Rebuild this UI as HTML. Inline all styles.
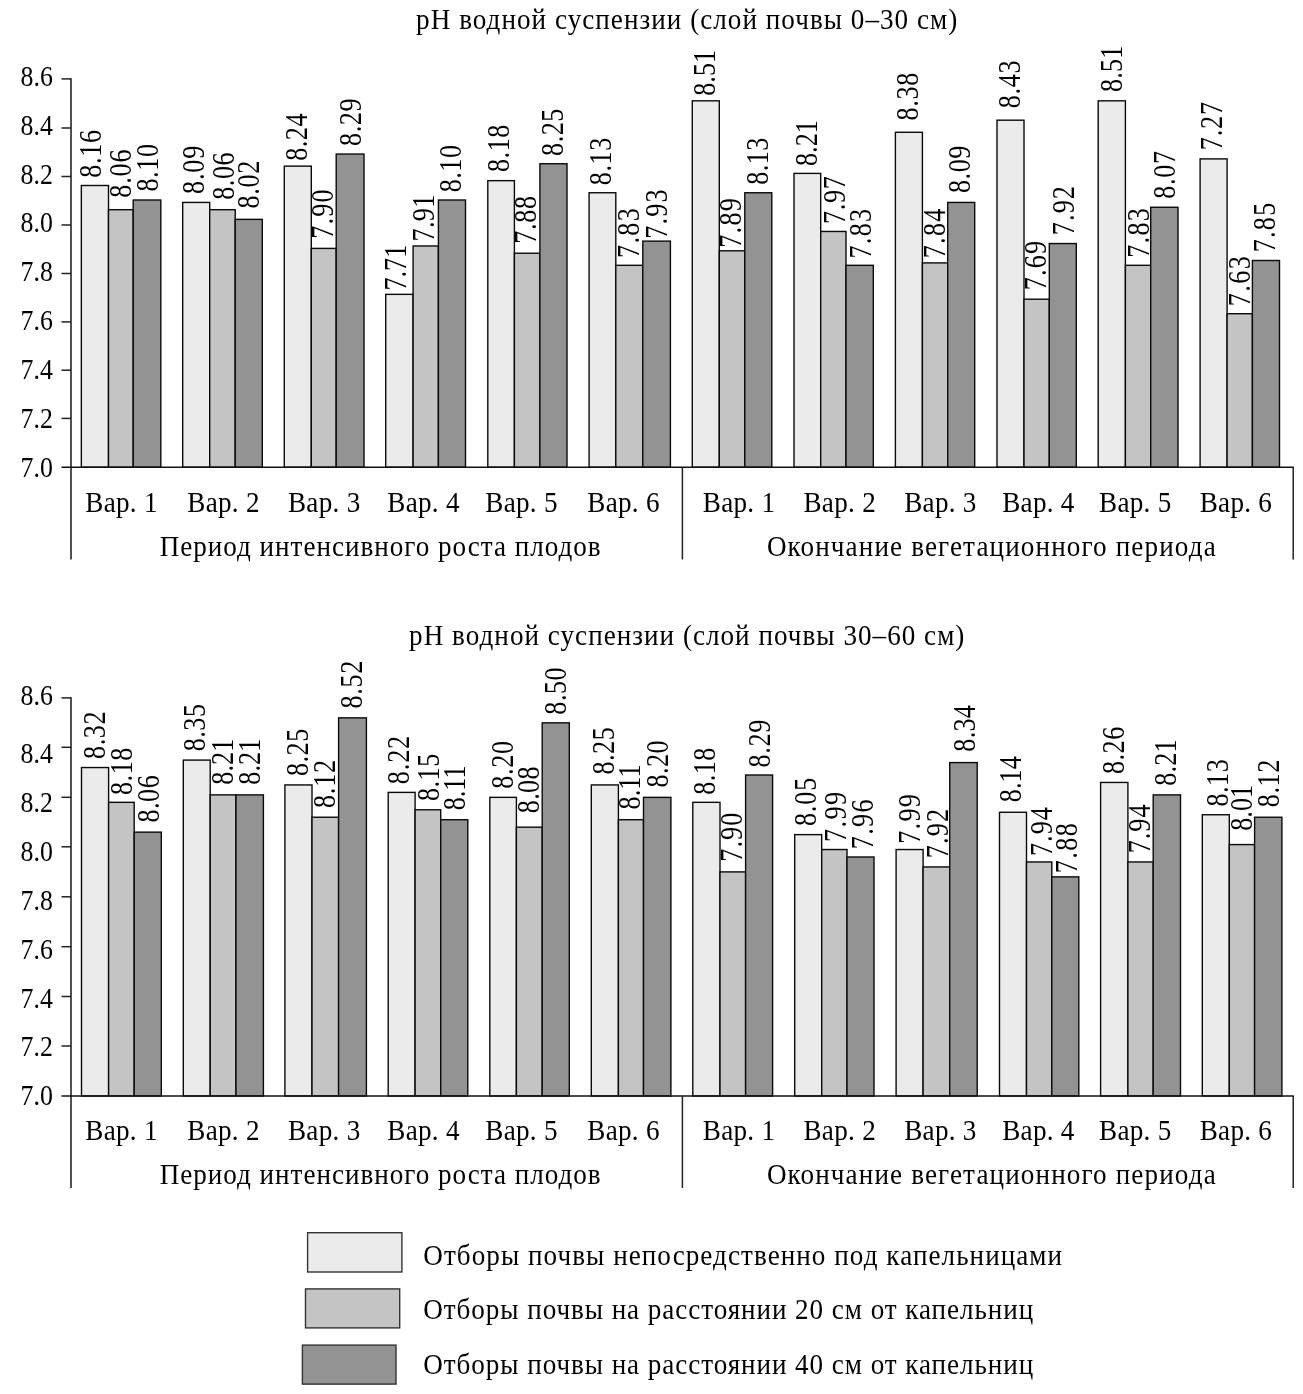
<!DOCTYPE html>
<html><head><meta charset="utf-8"><title>pH</title>
<style>
html,body{margin:0;padding:0;background:#fff;}
svg{display:block;filter:grayscale(1);}
text{font-family:"Liberation Serif",serif;fill:#000;}
</style></head><body>
<svg width="1303" height="1394" viewBox="0 0 1303 1394">
<rect width="1303" height="1394" fill="#fff"/>
<text transform="translate(416.10,29.20) scale(0.92,1)" font-size="29.5" letter-spacing="1.122">pH водной суспензии (слой почвы 0–30 см)</text>
<rect x="81.35" y="185.50" width="27.15" height="281.70" fill="#ebebeb" stroke="#0a0a0a" stroke-width="1.4"/>
<rect x="108.50" y="209.69" width="24.70" height="257.51" fill="#c4c4c4" stroke="#0a0a0a" stroke-width="1.4"/>
<rect x="133.20" y="200.01" width="27.60" height="267.19" fill="#939393" stroke="#0a0a0a" stroke-width="1.4"/>
<rect x="182.70" y="202.43" width="27.00" height="264.77" fill="#ebebeb" stroke="#0a0a0a" stroke-width="1.4"/>
<rect x="209.70" y="209.69" width="25.50" height="257.51" fill="#c4c4c4" stroke="#0a0a0a" stroke-width="1.4"/>
<rect x="235.20" y="219.36" width="27.10" height="247.84" fill="#939393" stroke="#0a0a0a" stroke-width="1.4"/>
<rect x="284.30" y="166.14" width="27.00" height="301.06" fill="#ebebeb" stroke="#0a0a0a" stroke-width="1.4"/>
<rect x="311.30" y="248.39" width="24.90" height="218.81" fill="#c4c4c4" stroke="#0a0a0a" stroke-width="1.4"/>
<rect x="336.20" y="154.05" width="27.80" height="313.15" fill="#939393" stroke="#0a0a0a" stroke-width="1.4"/>
<rect x="385.70" y="294.35" width="27.40" height="172.85" fill="#ebebeb" stroke="#0a0a0a" stroke-width="1.4"/>
<rect x="413.10" y="245.97" width="25.30" height="221.23" fill="#c4c4c4" stroke="#0a0a0a" stroke-width="1.4"/>
<rect x="438.40" y="200.01" width="27.10" height="267.19" fill="#939393" stroke="#0a0a0a" stroke-width="1.4"/>
<rect x="487.80" y="180.66" width="26.60" height="286.54" fill="#ebebeb" stroke="#0a0a0a" stroke-width="1.4"/>
<rect x="514.40" y="253.23" width="25.50" height="213.97" fill="#c4c4c4" stroke="#0a0a0a" stroke-width="1.4"/>
<rect x="539.90" y="163.73" width="27.10" height="303.47" fill="#939393" stroke="#0a0a0a" stroke-width="1.4"/>
<rect x="589.10" y="192.75" width="26.70" height="274.45" fill="#ebebeb" stroke="#0a0a0a" stroke-width="1.4"/>
<rect x="615.80" y="265.32" width="27.00" height="201.88" fill="#c4c4c4" stroke="#0a0a0a" stroke-width="1.4"/>
<rect x="642.80" y="241.13" width="27.60" height="226.07" fill="#939393" stroke="#0a0a0a" stroke-width="1.4"/>
<rect x="692.30" y="100.83" width="27.00" height="366.37" fill="#ebebeb" stroke="#0a0a0a" stroke-width="1.4"/>
<rect x="719.30" y="250.81" width="25.50" height="216.39" fill="#c4c4c4" stroke="#0a0a0a" stroke-width="1.4"/>
<rect x="744.80" y="192.75" width="27.00" height="274.45" fill="#939393" stroke="#0a0a0a" stroke-width="1.4"/>
<rect x="794.00" y="173.40" width="26.70" height="293.80" fill="#ebebeb" stroke="#0a0a0a" stroke-width="1.4"/>
<rect x="820.70" y="231.46" width="25.30" height="235.74" fill="#c4c4c4" stroke="#0a0a0a" stroke-width="1.4"/>
<rect x="846.00" y="265.32" width="27.30" height="201.88" fill="#939393" stroke="#0a0a0a" stroke-width="1.4"/>
<rect x="895.40" y="132.28" width="27.00" height="334.92" fill="#ebebeb" stroke="#0a0a0a" stroke-width="1.4"/>
<rect x="922.40" y="262.90" width="25.30" height="204.30" fill="#c4c4c4" stroke="#0a0a0a" stroke-width="1.4"/>
<rect x="947.70" y="202.43" width="27.00" height="264.77" fill="#939393" stroke="#0a0a0a" stroke-width="1.4"/>
<rect x="997.00" y="120.18" width="27.00" height="347.02" fill="#ebebeb" stroke="#0a0a0a" stroke-width="1.4"/>
<rect x="1024.00" y="299.19" width="25.30" height="168.01" fill="#c4c4c4" stroke="#0a0a0a" stroke-width="1.4"/>
<rect x="1049.30" y="243.55" width="27.00" height="223.65" fill="#939393" stroke="#0a0a0a" stroke-width="1.4"/>
<rect x="1098.20" y="100.83" width="27.20" height="366.37" fill="#ebebeb" stroke="#0a0a0a" stroke-width="1.4"/>
<rect x="1125.40" y="265.32" width="25.30" height="201.88" fill="#c4c4c4" stroke="#0a0a0a" stroke-width="1.4"/>
<rect x="1150.70" y="207.27" width="27.30" height="259.93" fill="#939393" stroke="#0a0a0a" stroke-width="1.4"/>
<rect x="1200.10" y="158.89" width="27.00" height="308.31" fill="#ebebeb" stroke="#0a0a0a" stroke-width="1.4"/>
<rect x="1227.10" y="313.70" width="25.30" height="153.50" fill="#c4c4c4" stroke="#0a0a0a" stroke-width="1.4"/>
<rect x="1252.40" y="260.49" width="27.10" height="206.71" fill="#939393" stroke="#0a0a0a" stroke-width="1.4"/>
<text transform="translate(101.10,177.80) rotate(-90) scale(0.856,1)" font-size="30.6" letter-spacing="0.82">8.16</text>
<text transform="translate(131.20,197.70) rotate(-90) scale(0.856,1)" font-size="30.6" letter-spacing="0.97">8.06</text>
<text transform="translate(158.40,191.60) rotate(-90) scale(0.856,1)" font-size="30.6" letter-spacing="0.72">8.10</text>
<text transform="translate(204.40,193.90) rotate(-90) scale(0.856,1)" font-size="30.6" letter-spacing="0.92">8.09</text>
<text transform="translate(234.30,199.70) rotate(-90) scale(0.856,1)" font-size="30.6" letter-spacing="0.55">8.06</text>
<text transform="translate(258.90,208.50) rotate(-90) scale(0.856,1)" font-size="30.6" letter-spacing="0.82">8.02</text>
<text transform="translate(306.90,160.80) rotate(-90) scale(0.856,1)" font-size="30.6" letter-spacing="0.58">8.24</text>
<text transform="translate(332.60,238.75) rotate(-90) scale(0.856,1)" font-size="30.6" letter-spacing="1.36">7.90</text>
<text transform="translate(360.60,145.90) rotate(-90) scale(0.856,1)" font-size="30.6" letter-spacing="0.64">8.29</text>
<text transform="translate(405.90,290.55) rotate(-90) scale(0.856,1)" font-size="30.6">7.71</text>
<text transform="translate(433.50,241.45) rotate(-90) scale(0.856,1)" font-size="30.6" letter-spacing="0.39">7.91</text>
<text transform="translate(461.10,192.30) rotate(-90) scale(0.856,1)" font-size="30.6" letter-spacing="0.6">8.10</text>
<text transform="translate(509.00,172.00) rotate(-90) scale(0.856,1)" font-size="30.6" letter-spacing="0.6">8.18</text>
<text transform="translate(536.20,243.75) rotate(-90) scale(0.856,1)" font-size="30.6" letter-spacing="0.74">7.88</text>
<text transform="translate(563.10,155.90) rotate(-90) scale(0.856,1)" font-size="30.6" letter-spacing="0.6">8.25</text>
<text transform="translate(611.10,185.30) rotate(-90) scale(0.856,1)" font-size="30.6" letter-spacing="0.72">8.13</text>
<text transform="translate(639.00,257.95) rotate(-90) scale(0.856,1)" font-size="30.6" letter-spacing="1.52">7.83</text>
<text transform="translate(667.10,238.75) rotate(-90) scale(0.856,1)" font-size="30.6" letter-spacing="1.36">7.93</text>
<text transform="translate(714.90,95.80) rotate(-90) scale(0.856,1)" font-size="30.6" letter-spacing="0.06">8.51</text>
<text transform="translate(741.30,247.75) rotate(-90) scale(0.856,1)" font-size="30.6" letter-spacing="1.48">7.89</text>
<text transform="translate(768.30,184.80) rotate(-90) scale(0.856,1)" font-size="30.6" letter-spacing="0.56">8.13</text>
<text transform="translate(817.40,166.00) rotate(-90) scale(0.856,1)" font-size="30.6" letter-spacing="0.02">8.21</text>
<text transform="translate(844.60,223.95) rotate(-90) scale(0.856,1)" font-size="30.6" letter-spacing="0.8">7.97</text>
<text transform="translate(871.10,258.55) rotate(-90) scale(0.856,1)" font-size="30.6" letter-spacing="1.52">7.83</text>
<text transform="translate(918.20,120.60) rotate(-90) scale(0.856,1)" font-size="30.6" letter-spacing="0.8">8.38</text>
<text transform="translate(945.00,258.25) rotate(-90) scale(0.856,1)" font-size="30.6" letter-spacing="1.5">7.84</text>
<text transform="translate(970.40,193.00) rotate(-90) scale(0.856,1)" font-size="30.6" letter-spacing="0.6">8.09</text>
<text transform="translate(1020.40,108.30) rotate(-90) scale(0.856,1)" font-size="30.6" letter-spacing="0.8">8.43</text>
<text transform="translate(1046.30,290.25) rotate(-90) scale(0.856,1)" font-size="30.6" letter-spacing="1.36">7.69</text>
<text transform="translate(1073.70,235.15) rotate(-90) scale(0.856,1)" font-size="30.6" letter-spacing="1.27">7.92</text>
<text transform="translate(1122.10,92.00) rotate(-90) scale(0.856,1)" font-size="30.6" letter-spacing="0.18">8.51</text>
<text transform="translate(1148.50,257.75) rotate(-90) scale(0.856,1)" font-size="30.6" letter-spacing="1.48">7.83</text>
<text transform="translate(1174.60,198.70) rotate(-90) scale(0.856,1)" font-size="30.6" letter-spacing="0.78">8.07</text>
<text transform="translate(1222.20,150.35) rotate(-90) scale(0.856,1)" font-size="30.6" letter-spacing="1.07">7.27</text>
<text transform="translate(1249.50,306.15) rotate(-90) scale(0.856,1)" font-size="30.6" letter-spacing="1.64">7.63</text>
<text transform="translate(1275.10,252.35) rotate(-90) scale(0.856,1)" font-size="30.6" letter-spacing="1.48">7.85</text>
<line x1="71.00" y1="78.20" x2="71.00" y2="559.50" stroke="#333" stroke-width="1.7"/>
<line x1="61.50" y1="467.20" x2="1293.90" y2="467.20" stroke="#111" stroke-width="1.5"/>
<line x1="682.40" y1="467.20" x2="682.40" y2="559.50" stroke="#222" stroke-width="1.5"/>
<line x1="1293.20" y1="467.20" x2="1293.20" y2="559.50" stroke="#222" stroke-width="1.5"/>
<text transform="translate(52.90,476.60) scale(0.856,1)" font-size="30.2" text-anchor="end">7.0</text>
<line x1="61.50" y1="418.40" x2="71.00" y2="418.40" stroke="#222" stroke-width="1.5"/>
<text transform="translate(52.90,427.75) scale(0.856,1)" font-size="30.2" text-anchor="end">7.2</text>
<line x1="61.50" y1="370.20" x2="71.00" y2="370.20" stroke="#222" stroke-width="1.5"/>
<text transform="translate(52.90,378.90) scale(0.856,1)" font-size="30.2" text-anchor="end">7.4</text>
<line x1="61.50" y1="321.90" x2="71.00" y2="321.90" stroke="#222" stroke-width="1.5"/>
<text transform="translate(52.90,330.05) scale(0.856,1)" font-size="30.2" text-anchor="end">7.6</text>
<line x1="61.50" y1="273.50" x2="71.00" y2="273.50" stroke="#222" stroke-width="1.5"/>
<text transform="translate(52.90,281.20) scale(0.856,1)" font-size="30.2" text-anchor="end">7.8</text>
<line x1="61.50" y1="225.00" x2="71.00" y2="225.00" stroke="#222" stroke-width="1.5"/>
<text transform="translate(52.90,232.35) scale(0.856,1)" font-size="30.2" text-anchor="end">8.0</text>
<line x1="61.50" y1="176.50" x2="71.00" y2="176.50" stroke="#222" stroke-width="1.5"/>
<text transform="translate(52.90,183.50) scale(0.856,1)" font-size="30.2" text-anchor="end">8.2</text>
<line x1="61.50" y1="128.00" x2="71.00" y2="128.00" stroke="#222" stroke-width="1.5"/>
<text transform="translate(52.90,134.65) scale(0.856,1)" font-size="30.2" text-anchor="end">8.4</text>
<line x1="61.50" y1="78.90" x2="71.00" y2="78.90" stroke="#222" stroke-width="1.5"/>
<text transform="translate(52.90,85.80) scale(0.856,1)" font-size="30.2" text-anchor="end">8.6</text>
<text transform="translate(85.30,511.90) scale(0.92,1)" font-size="29.5" letter-spacing="0.3">Вар. 1</text>
<text transform="translate(187.30,511.90) scale(0.92,1)" font-size="29.5" letter-spacing="0.3">Вар. 2</text>
<text transform="translate(288.00,511.90) scale(0.92,1)" font-size="29.5" letter-spacing="0.3">Вар. 3</text>
<text transform="translate(387.30,511.90) scale(0.92,1)" font-size="29.5" letter-spacing="0.3">Вар. 4</text>
<text transform="translate(485.30,511.90) scale(0.92,1)" font-size="29.5" letter-spacing="0.3">Вар. 5</text>
<text transform="translate(587.30,511.90) scale(0.92,1)" font-size="29.5" letter-spacing="0.3">Вар. 6</text>
<text transform="translate(702.80,511.90) scale(0.92,1)" font-size="29.5" letter-spacing="0.3">Вар. 1</text>
<text transform="translate(803.50,511.90) scale(0.92,1)" font-size="29.5" letter-spacing="0.3">Вар. 2</text>
<text transform="translate(904.20,511.90) scale(0.92,1)" font-size="29.5" letter-spacing="0.3">Вар. 3</text>
<text transform="translate(1002.20,511.90) scale(0.92,1)" font-size="29.5" letter-spacing="0.3">Вар. 4</text>
<text transform="translate(1099.10,511.90) scale(0.92,1)" font-size="29.5" letter-spacing="0.3">Вар. 5</text>
<text transform="translate(1199.70,511.90) scale(0.92,1)" font-size="29.5" letter-spacing="0.3">Вар. 6</text>
<text transform="translate(159.65,555.80) scale(0.92,1)" font-size="29.5" letter-spacing="1.064">Период интенсивного роста плодов</text>
<text transform="translate(766.90,555.80) scale(0.92,1)" font-size="29.5" letter-spacing="1.221">Окончание вегетационного периода</text>
<text transform="translate(409.10,645.00) scale(0.92,1)" font-size="29.5" letter-spacing="1.108">pH водной суспензии (слой почвы 30–60 см)</text>
<rect x="81.50" y="767.55" width="27.10" height="328.45" fill="#ebebeb" stroke="#0a0a0a" stroke-width="1.4"/>
<rect x="108.60" y="802.33" width="25.60" height="293.67" fill="#c4c4c4" stroke="#0a0a0a" stroke-width="1.4"/>
<rect x="134.20" y="832.14" width="27.10" height="263.86" fill="#939393" stroke="#0a0a0a" stroke-width="1.4"/>
<rect x="183.30" y="760.09" width="26.90" height="335.91" fill="#ebebeb" stroke="#0a0a0a" stroke-width="1.4"/>
<rect x="210.20" y="794.88" width="25.80" height="301.12" fill="#c4c4c4" stroke="#0a0a0a" stroke-width="1.4"/>
<rect x="236.00" y="794.88" width="27.40" height="301.12" fill="#939393" stroke="#0a0a0a" stroke-width="1.4"/>
<rect x="284.90" y="784.94" width="27.10" height="311.06" fill="#ebebeb" stroke="#0a0a0a" stroke-width="1.4"/>
<rect x="312.00" y="817.24" width="26.60" height="278.76" fill="#c4c4c4" stroke="#0a0a0a" stroke-width="1.4"/>
<rect x="338.60" y="717.86" width="27.80" height="378.14" fill="#939393" stroke="#0a0a0a" stroke-width="1.4"/>
<rect x="388.20" y="792.39" width="26.90" height="303.61" fill="#ebebeb" stroke="#0a0a0a" stroke-width="1.4"/>
<rect x="415.10" y="809.78" width="25.60" height="286.22" fill="#c4c4c4" stroke="#0a0a0a" stroke-width="1.4"/>
<rect x="440.70" y="819.72" width="27.10" height="276.28" fill="#939393" stroke="#0a0a0a" stroke-width="1.4"/>
<rect x="489.80" y="797.36" width="26.60" height="298.64" fill="#ebebeb" stroke="#0a0a0a" stroke-width="1.4"/>
<rect x="516.40" y="827.17" width="25.80" height="268.83" fill="#c4c4c4" stroke="#0a0a0a" stroke-width="1.4"/>
<rect x="542.20" y="722.83" width="27.10" height="373.17" fill="#939393" stroke="#0a0a0a" stroke-width="1.4"/>
<rect x="591.30" y="784.94" width="27.10" height="311.06" fill="#ebebeb" stroke="#0a0a0a" stroke-width="1.4"/>
<rect x="618.40" y="819.72" width="25.10" height="276.28" fill="#c4c4c4" stroke="#0a0a0a" stroke-width="1.4"/>
<rect x="643.50" y="797.36" width="27.40" height="298.64" fill="#939393" stroke="#0a0a0a" stroke-width="1.4"/>
<rect x="692.80" y="802.33" width="27.20" height="293.67" fill="#ebebeb" stroke="#0a0a0a" stroke-width="1.4"/>
<rect x="720.00" y="871.89" width="25.60" height="224.11" fill="#c4c4c4" stroke="#0a0a0a" stroke-width="1.4"/>
<rect x="745.60" y="775.00" width="27.00" height="321.00" fill="#939393" stroke="#0a0a0a" stroke-width="1.4"/>
<rect x="794.70" y="834.63" width="27.00" height="261.37" fill="#ebebeb" stroke="#0a0a0a" stroke-width="1.4"/>
<rect x="821.70" y="849.53" width="25.30" height="246.47" fill="#c4c4c4" stroke="#0a0a0a" stroke-width="1.4"/>
<rect x="847.00" y="856.99" width="27.00" height="239.01" fill="#939393" stroke="#0a0a0a" stroke-width="1.4"/>
<rect x="896.10" y="849.53" width="27.00" height="246.47" fill="#ebebeb" stroke="#0a0a0a" stroke-width="1.4"/>
<rect x="923.10" y="866.93" width="26.60" height="229.07" fill="#c4c4c4" stroke="#0a0a0a" stroke-width="1.4"/>
<rect x="949.70" y="762.58" width="27.50" height="333.42" fill="#939393" stroke="#0a0a0a" stroke-width="1.4"/>
<rect x="999.50" y="812.27" width="27.00" height="283.73" fill="#ebebeb" stroke="#0a0a0a" stroke-width="1.4"/>
<rect x="1026.50" y="861.96" width="25.30" height="234.04" fill="#c4c4c4" stroke="#0a0a0a" stroke-width="1.4"/>
<rect x="1051.80" y="876.86" width="27.00" height="219.14" fill="#939393" stroke="#0a0a0a" stroke-width="1.4"/>
<rect x="1100.60" y="782.45" width="27.30" height="313.55" fill="#ebebeb" stroke="#0a0a0a" stroke-width="1.4"/>
<rect x="1127.90" y="861.96" width="25.30" height="234.04" fill="#c4c4c4" stroke="#0a0a0a" stroke-width="1.4"/>
<rect x="1153.20" y="794.88" width="27.30" height="301.12" fill="#939393" stroke="#0a0a0a" stroke-width="1.4"/>
<rect x="1202.30" y="814.75" width="27.00" height="281.25" fill="#ebebeb" stroke="#0a0a0a" stroke-width="1.4"/>
<rect x="1229.30" y="844.57" width="25.30" height="251.43" fill="#c4c4c4" stroke="#0a0a0a" stroke-width="1.4"/>
<rect x="1254.60" y="817.24" width="27.30" height="278.76" fill="#939393" stroke="#0a0a0a" stroke-width="1.4"/>
<text transform="translate(105.40,758.90) rotate(-90) scale(0.856,1)" font-size="30.6" letter-spacing="0.66">8.32</text>
<text transform="translate(132.30,795.00) rotate(-90) scale(0.856,1)" font-size="30.6" letter-spacing="0.6">8.18</text>
<text transform="translate(159.10,822.60) rotate(-90) scale(0.856,1)" font-size="30.6" letter-spacing="0.62">8.06</text>
<text transform="translate(205.20,751.30) rotate(-90) scale(0.856,1)" font-size="30.6" letter-spacing="0.6">8.35</text>
<text transform="translate(232.80,784.70) rotate(-90) scale(0.856,1)" font-size="30.6" letter-spacing="0.06">8.21</text>
<text transform="translate(260.10,784.70) rotate(-90) scale(0.856,1)" font-size="30.6" letter-spacing="0.06">8.21</text>
<text transform="translate(308.10,776.00) rotate(-90) scale(0.856,1)" font-size="30.6" letter-spacing="0.56">8.25</text>
<text transform="translate(335.30,808.00) rotate(-90) scale(0.856,1)" font-size="30.6" letter-spacing="0.9">8.12</text>
<text transform="translate(362.10,708.60) rotate(-90) scale(0.856,1)" font-size="30.6" letter-spacing="0.86">8.52</text>
<text transform="translate(409.40,784.20) rotate(-90) scale(0.856,1)" font-size="30.6" letter-spacing="1.01">8.22</text>
<text transform="translate(438.60,801.00) rotate(-90) scale(0.856,1)" font-size="30.6" letter-spacing="0.56">8.15</text>
<text transform="translate(465.30,810.30) rotate(-90) scale(0.856,1)" font-size="30.6" letter-spacing="0.02">8.11</text>
<text transform="translate(513.20,788.70) rotate(-90) scale(0.856,1)" font-size="30.6" letter-spacing="0.72">8.20</text>
<text transform="translate(539.30,813.30) rotate(-90) scale(0.856,1)" font-size="30.6" letter-spacing="0.45">8.08</text>
<text transform="translate(566.10,714.70) rotate(-90) scale(0.856,1)" font-size="30.6" letter-spacing="0.6">8.50</text>
<text transform="translate(614.00,774.60) rotate(-90) scale(0.856,1)" font-size="30.6" letter-spacing="0.6">8.25</text>
<text transform="translate(639.80,809.60) rotate(-90) scale(0.856,1)" font-size="30.6" letter-spacing="0.18">8.11</text>
<text transform="translate(668.20,787.60) rotate(-90) scale(0.856,1)" font-size="30.6" letter-spacing="0.56">8.20</text>
<text transform="translate(714.90,794.70) rotate(-90) scale(0.856,1)" font-size="30.6" letter-spacing="0.49">8.18</text>
<text transform="translate(742.20,861.85) rotate(-90) scale(0.856,1)" font-size="30.6" letter-spacing="1.36">7.90</text>
<text transform="translate(770.40,767.50) rotate(-90) scale(0.856,1)" font-size="30.6" letter-spacing="0.8">8.29</text>
<text transform="translate(816.20,826.10) rotate(-90) scale(0.856,1)" font-size="30.6" letter-spacing="0.99">8.05</text>
<text transform="translate(845.60,841.95) rotate(-90) scale(0.856,1)" font-size="30.6" letter-spacing="1.67">7.99</text>
<text transform="translate(873.30,849.15) rotate(-90) scale(0.856,1)" font-size="30.6" letter-spacing="1.5">7.96</text>
<text transform="translate(920.20,843.75) rotate(-90) scale(0.856,1)" font-size="30.6" letter-spacing="1.48">7.99</text>
<text transform="translate(947.80,858.35) rotate(-90) scale(0.856,1)" font-size="30.6" letter-spacing="1.42">7.92</text>
<text transform="translate(975.00,751.70) rotate(-90) scale(0.856,1)" font-size="30.6" letter-spacing="0.31">8.34</text>
<text transform="translate(1021.00,802.30) rotate(-90) scale(0.856,1)" font-size="30.6" letter-spacing="0.12">8.14</text>
<text transform="translate(1051.70,856.05) rotate(-90) scale(0.856,1)" font-size="30.6" letter-spacing="1.23">7.94</text>
<text transform="translate(1077.20,873.35) rotate(-90) scale(0.856,1)" font-size="30.6" letter-spacing="1.67">7.88</text>
<text transform="translate(1124.20,774.00) rotate(-90) scale(0.856,1)" font-size="30.6" letter-spacing="0.55">8.26</text>
<text transform="translate(1150.30,853.35) rotate(-90) scale(0.856,1)" font-size="30.6" letter-spacing="1.19">7.94</text>
<text transform="translate(1176.10,785.80) rotate(-90) scale(0.856,1)" font-size="30.6" letter-spacing="0.18">8.21</text>
<text transform="translate(1227.50,806.60) rotate(-90) scale(0.856,1)" font-size="30.6" letter-spacing="0.6">8.13</text>
<text transform="translate(1252.10,830.80) rotate(-90) scale(0.856,1)" font-size="30.6" letter-spacing="0.06">8.01</text>
<text transform="translate(1278.70,807.30) rotate(-90) scale(0.856,1)" font-size="30.6" letter-spacing="0.7">8.12</text>
<line x1="71.00" y1="697.20" x2="71.00" y2="1188.00" stroke="#333" stroke-width="1.7"/>
<line x1="61.50" y1="1096.00" x2="1293.90" y2="1096.00" stroke="#111" stroke-width="1.5"/>
<line x1="682.40" y1="1096.00" x2="682.40" y2="1188.00" stroke="#222" stroke-width="1.5"/>
<line x1="1293.20" y1="1096.00" x2="1293.20" y2="1188.00" stroke="#222" stroke-width="1.5"/>
<text transform="translate(52.90,1105.30) scale(0.856,1)" font-size="30.2" text-anchor="end">7.0</text>
<line x1="61.50" y1="1046.00" x2="71.00" y2="1046.00" stroke="#222" stroke-width="1.5"/>
<text transform="translate(52.90,1056.45) scale(0.856,1)" font-size="30.2" text-anchor="end">7.2</text>
<line x1="61.50" y1="996.50" x2="71.00" y2="996.50" stroke="#222" stroke-width="1.5"/>
<text transform="translate(52.90,1007.60) scale(0.856,1)" font-size="30.2" text-anchor="end">7.4</text>
<line x1="61.50" y1="946.70" x2="71.00" y2="946.70" stroke="#222" stroke-width="1.5"/>
<text transform="translate(52.90,958.75) scale(0.856,1)" font-size="30.2" text-anchor="end">7.6</text>
<line x1="61.50" y1="896.80" x2="71.00" y2="896.80" stroke="#222" stroke-width="1.5"/>
<text transform="translate(52.90,909.90) scale(0.856,1)" font-size="30.2" text-anchor="end">7.8</text>
<line x1="61.50" y1="846.80" x2="71.00" y2="846.80" stroke="#222" stroke-width="1.5"/>
<text transform="translate(52.90,861.05) scale(0.856,1)" font-size="30.2" text-anchor="end">8.0</text>
<line x1="61.50" y1="797.30" x2="71.00" y2="797.30" stroke="#222" stroke-width="1.5"/>
<text transform="translate(52.90,812.20) scale(0.856,1)" font-size="30.2" text-anchor="end">8.2</text>
<line x1="61.50" y1="747.30" x2="71.00" y2="747.30" stroke="#222" stroke-width="1.5"/>
<text transform="translate(52.90,763.35) scale(0.856,1)" font-size="30.2" text-anchor="end">8.4</text>
<line x1="61.50" y1="697.90" x2="71.00" y2="697.90" stroke="#222" stroke-width="1.5"/>
<text transform="translate(52.90,704.90) scale(0.856,1)" font-size="30.2" text-anchor="end">8.6</text>
<text transform="translate(85.30,1139.50) scale(0.92,1)" font-size="29.5" letter-spacing="0.3">Вар. 1</text>
<text transform="translate(187.30,1139.50) scale(0.92,1)" font-size="29.5" letter-spacing="0.3">Вар. 2</text>
<text transform="translate(288.00,1139.50) scale(0.92,1)" font-size="29.5" letter-spacing="0.3">Вар. 3</text>
<text transform="translate(387.30,1139.50) scale(0.92,1)" font-size="29.5" letter-spacing="0.3">Вар. 4</text>
<text transform="translate(485.30,1139.50) scale(0.92,1)" font-size="29.5" letter-spacing="0.3">Вар. 5</text>
<text transform="translate(587.30,1139.50) scale(0.92,1)" font-size="29.5" letter-spacing="0.3">Вар. 6</text>
<text transform="translate(702.80,1139.50) scale(0.92,1)" font-size="29.5" letter-spacing="0.3">Вар. 1</text>
<text transform="translate(803.50,1139.50) scale(0.92,1)" font-size="29.5" letter-spacing="0.3">Вар. 2</text>
<text transform="translate(904.20,1139.50) scale(0.92,1)" font-size="29.5" letter-spacing="0.3">Вар. 3</text>
<text transform="translate(1002.20,1139.50) scale(0.92,1)" font-size="29.5" letter-spacing="0.3">Вар. 4</text>
<text transform="translate(1099.10,1139.50) scale(0.92,1)" font-size="29.5" letter-spacing="0.3">Вар. 5</text>
<text transform="translate(1199.70,1139.50) scale(0.92,1)" font-size="29.5" letter-spacing="0.3">Вар. 6</text>
<text transform="translate(159.65,1183.70) scale(0.92,1)" font-size="29.5" letter-spacing="1.064">Период интенсивного роста плодов</text>
<text transform="translate(766.90,1183.70) scale(0.92,1)" font-size="29.5" letter-spacing="1.221">Окончание вегетационного периода</text>
<rect x="307.60" y="1232.70" width="94.30" height="39.30" fill="#ebebeb" stroke="#333" stroke-width="1.4"/>
<text transform="translate(423.30,1264.80) scale(0.92,1)" font-size="29.5" letter-spacing="1.141">Отборы почвы непосредственно под капельницами</text>
<rect x="305.50" y="1288.90" width="94.20" height="39.00" fill="#c4c4c4" stroke="#333" stroke-width="1.4"/>
<text transform="translate(423.30,1319.10) scale(0.92,1)" font-size="29.5" letter-spacing="1.017">Отборы почвы на расстоянии 20 см от капельниц</text>
<rect x="302.40" y="1345.10" width="93.60" height="39.00" fill="#939393" stroke="#333" stroke-width="1.4"/>
<text transform="translate(423.30,1374.10) scale(0.92,1)" font-size="29.5" letter-spacing="1.017">Отборы почвы на расстоянии 40 см от капельниц</text>
</svg>
</body></html>
